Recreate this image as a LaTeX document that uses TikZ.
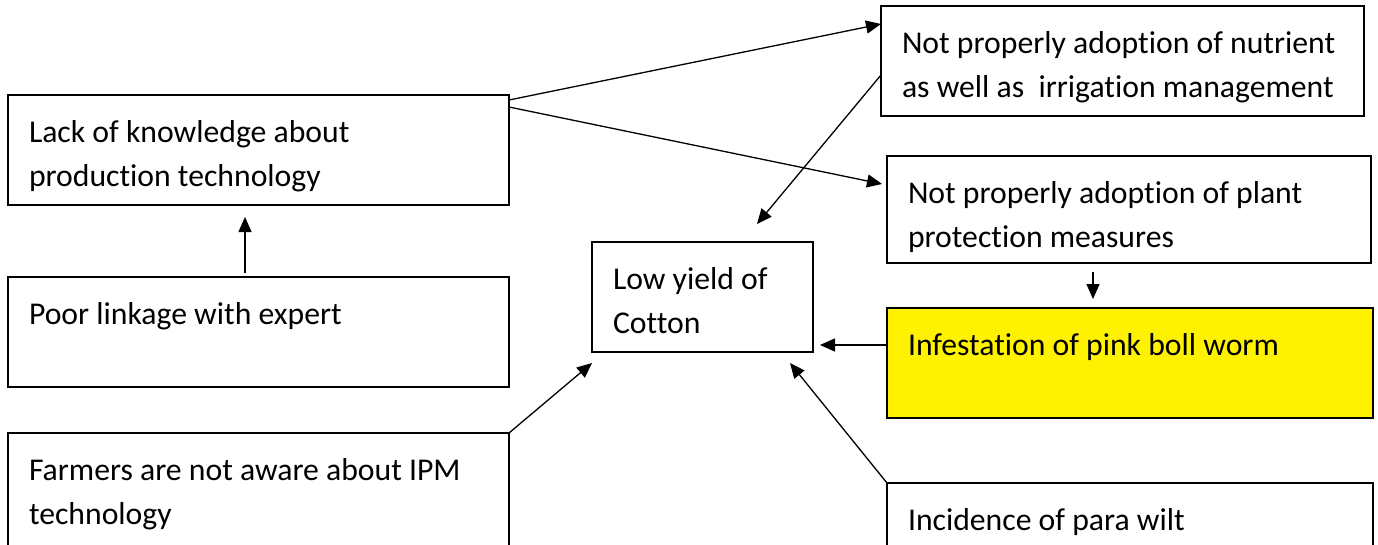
\documentclass[tikz,border=0pt]{standalone}
\usepackage{fontspec}
\setmainfont{Carlito}[Ligatures=NoCommon]
\usepackage{tikz}
\usetikzlibrary{arrows.meta}

\begin{document}
\begin{tikzpicture}[x=1pt, y=-1pt, line width=1.3pt,
	>={Triangle[length=15pt,width=13pt]},
	box/.style={draw, anchor=north west, align=flush left,
		inner xsep=21pt, inner ysep=0pt, outer sep=0pt,
		text height=47pt, text depth=63pt,
		font=\fontsize{31.7}{44}\selectfont}]
	\useasboundingbox (0,0) rectangle (1378,544);

	\node [box, text width=459pt] (1) at (8,95) 
		{Lack of knowledge about\\production technology};
	\node [box, text width=459pt] (2) at (8,277) 
		{Poor linkage with expert};
	\node [box, text width=459pt, text depth=68pt] (3) at (8,433) 
		{Farmers are not aware about IPM\\technology};
	\node [box, text width=179pt] (4) at (592,242) 
		{Low yield of\\Cotton};
	\node [box, text width=441pt] (5) at (881,6) 
		{Not properly adoption of nutrient\\as well as~ irrigation management};
	\node [box, text width=442pt, text depth=60pt] (6) at (887,156) 
		{Not properly adoption of plant\\protection measures};
	\node [box, text width=444pt, fill=yellow] (7) at (887,308) 
		{Infestation of pink boll worm};
	\node [box, text width=444pt, text depth=65pt] (8) at (887,483) 
		{Incidence of para wilt};

	\draw [ -> ] ([yshift=-5pt]1.north east) to 
		([yshift=-18pt]5.north west);
	\draw [ -> ] ([yshift=-12pt]1.north east) to 
		([xshift=-5pt,yshift=-28pt]6.north west);
	\draw [ -> ] ([yshift=-69pt]5.north west) to 
		([xshift=165pt,yshift=18pt]4.north west);
	\draw [ -> ] ([xshift=-13.5pt,yshift=4pt]2.north) to 
		([xshift=-13.5pt,yshift=-12pt]1.south);
	\draw [ -> ] ([xshift=-36pt,yshift=-9pt]6.south) to 
		([xshift=-37pt,yshift=9pt]7.north);
	\draw [ -> ] ([yshift=18pt]7.west) to 
		([xshift=7pt,yshift=-48pt]4.east);
	\draw [ -> ] (8.north west) to 
		([xshift=-23pt,yshift=-11pt]4.south east);
	\draw [ -> ] (3.north east) to 
		([yshift=-11pt]4.south west);
\end{tikzpicture}
\end{document}
